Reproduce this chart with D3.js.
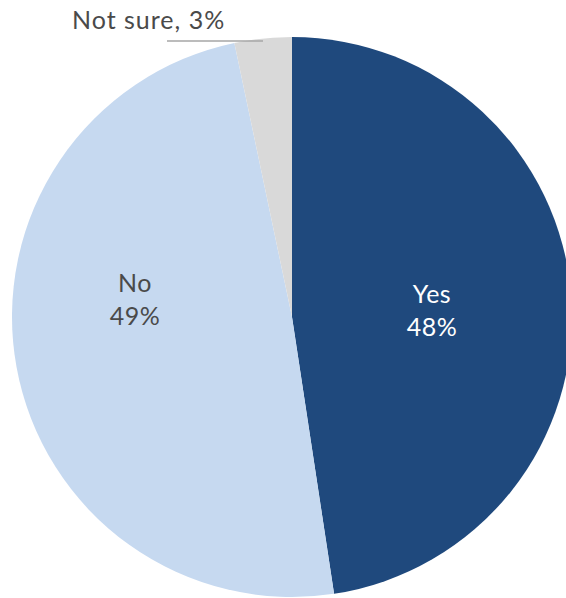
<!DOCTYPE html>
<html><head><meta charset="utf-8">
<script src="https://cdn.jsdelivr.net/npm/d3@7"></script>
<style>
html,body{margin:0;padding:0;background:#fff;}
svg{display:block;}
text{font-family:"Century Gothic","URW Gothic","Lato","Open Sans",sans-serif;}
</style></head>
<body>
<svg id="chart" width="566" height="598"></svg>
<script>
const categories = ["Yes", "No", "Not sure"];
const values = [47.6, 49.1, 3.3];
const labels = ["48%", "49%", "3%"];
const colors = ["#1F497D", "#C6D9F0", "#D9D9D9"];

const W = 566, H = 598;
const cx = 292, cy = 317, R = 280;
const svg = d3.select("#chart");
const g = svg.append("g").attr("transform", `translate(${cx},${cy})`);

const data = categories.map((c, i) => ({cat: c, value: values[i], label: labels[i], color: colors[i]}));
const pie = d3.pie().sort(null).value(d => d.value);
const arc = d3.arc().innerRadius(0).outerRadius(R);
const arcs = pie(data);

g.selectAll("path").data(arcs).enter().append("path")
  .attr("d", arc)
  .attr("fill", d => d.data.color);

// inside labels
const insidePos = {"Yes": [140, -6], "No": [-157, -17]};
const textColor = {"Yes": "#FFFFFF", "No": "#4A4A4A"};
arcs.filter(a => insidePos[a.data.cat]).forEach(a => {
  const p = insidePos[a.data.cat];
  const t = g.append("text")
    .attr("text-anchor", "middle")
    .attr("font-size", 25)
    .attr("letter-spacing", 0.5)
    .attr("fill", textColor[a.data.cat]);
  t.append("tspan").attr("x", p[0]).attr("y", p[1] - 8).text(a.data.cat);
  t.append("tspan").attr("x", p[0]).attr("y", p[1] + 25).text(a.data.label);
});

// outside label for "Not sure"
const ns = arcs[2];
const mid = (ns.startAngle + ns.endAngle) / 2;
const edgeX = R * Math.sin(mid);
g.append("line")
  .attr("x1", 167 - cx).attr("y1", 41 - cy)
  .attr("x2", edgeX).attr("y2", 41 - cy)
  .attr("stroke", "#A6A6A6").attr("stroke-width", 1.5);
svg.append("text")
  .attr("x", 72).attr("y", 29)
  .attr("font-size", 25)
  .attr("letter-spacing", 1)
  .attr("fill", "#4A4A4A")
  .text(`${ns.data.cat}, ${ns.data.label}`);
</script>
</body></html>
